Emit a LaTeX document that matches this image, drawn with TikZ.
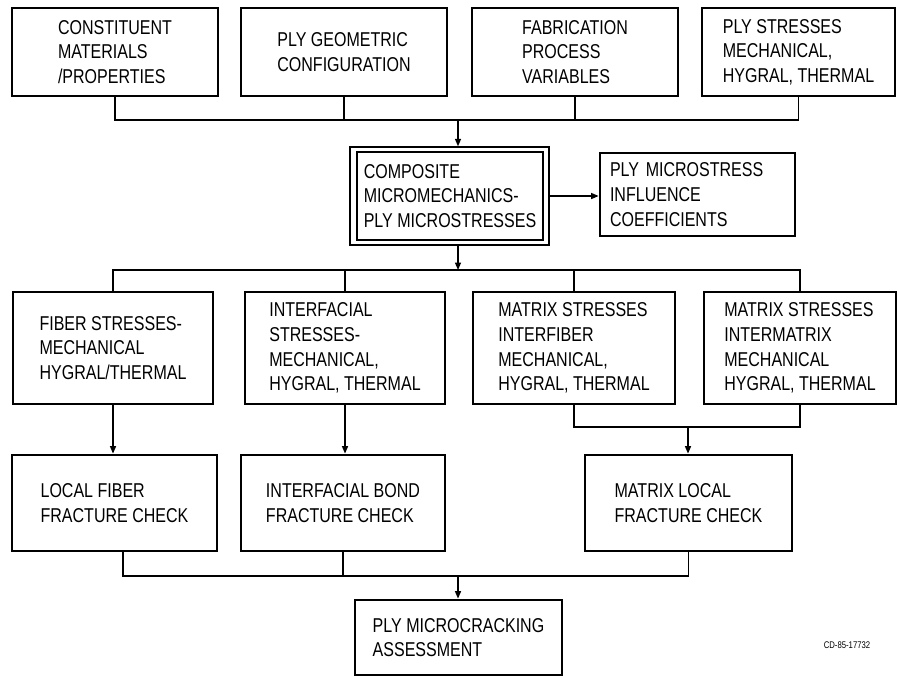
\documentclass[tikz,border=0pt]{standalone}
\usepackage{fontspec}
\setmainfont{Liberation Sans}[FakeStretch=0.8]
\usetikzlibrary{arrows.meta}

\tikzset{
  box/.style={draw, line width=1.6pt, inner sep=0pt, align=left,
    font=\fontsize{11.4}{14}\selectfont},
  link/.style={line width=0.8pt},
  flow/.style={link, -{Triangle[length=0.15cm,width=0.12cm]}}
}

\begin{document}
\begin{tikzpicture}[x=0.02cm,y=-0.02cm]
\useasboundingbox (0,0) rectangle (898,677);

% inputs
\node[box, minimum width=4.12cm, minimum height=1.76cm] (cm) at (115,52) {CONSTITUENT\\MATERIALS\\/PROPERTIES};
\node[box, minimum width=4.12cm, minimum height=1.76cm] (pg) at (344,52) {PLY GEOMETRIC\\CONFIGURATION};
\node[box, minimum width=4.12cm, minimum height=1.76cm] (fp) at (575,52) {FABRICATION\\PROCESS\\VARIABLES};
\node[box, minimum width=3.86cm, minimum height=1.76cm] (ps) at (798.5,52) {PLY STRESSES\\MECHANICAL,\\HYGRAL, THERMAL};

% micromechanics
\node[draw, line width=0.8pt, minimum width=3.98cm, minimum height=1.96cm] (cpo) at (449.5,196) {};
\node[box, minimum width=3.72cm, minimum height=1.76cm] (cp) at (450,196) {COMPOSITE\\MICROMECHANICS-\\PLY MICROSTRESSES};
\node[box, minimum width=3.9cm, minimum height=1.66cm, text width=3.5cm] (mc) at (697.5,194.5) {PLY MICROSTRESS\\INFLUENCE\\COEFFICIENTS};

% microstresses
\node[box, minimum width=4cm, minimum height=2.24cm] (fs) at (113,348) {FIBER STRESSES-\\MECHANICAL\\HYGRAL/THERMAL};
\node[box, minimum width=4cm, minimum height=2.24cm] (is) at (345,348) {INTERFACIAL\\STRESSES-\\MECHANICAL,\\HYGRAL, THERMAL};
\node[box, minimum width=4.04cm, minimum height=2.24cm] (mi) at (574,348) {MATRIX STRESSES\\INTERFIBER\\MECHANICAL,\\HYGRAL, THERMAL};
\node[box, minimum width=3.84cm, minimum height=2.24cm] (mm) at (800,348) {MATRIX STRESSES\\INTERMATRIX\\MECHANICAL\\HYGRAL, THERMAL};

% checks
\node[box, minimum width=4.1cm, minimum height=1.92cm] (lf) at (114.5,503) {LOCAL FIBER\\FRACTURE CHECK};
\node[box, minimum width=4.08cm, minimum height=1.92cm] (ib) at (343,503) {INTERFACIAL BOND\\FRACTURE CHECK};
\node[box, minimum width=4.14cm, minimum height=1.92cm] (ml) at (688.5,503) {MATRIX LOCAL\\FRACTURE CHECK};
\node[box, minimum width=4.14cm, minimum height=1.5cm] (pm) at (458.5,637.5) {PLY MICROCRACKING\\ASSESSMENT};

\node[font=\fontsize{5.5}{6}\selectfont] (cd) at (847,645) {CD-85-17732};

% joins
\coordinate (j1) at (458,120);
\coordinate (j2) at (458,270);
\coordinate (j3) at (688,427);
\coordinate (j4) at (458,576);

\draw[link] (cm.south) |- (ps.south |- j1) -- (ps.south);
\draw[link] (pg.south) -- (pg.south |- j1);
\draw[link] (fp.south) -- (fp.south |- j1);
\draw[flow] (j1) -- (j1 |- cpo.north);
\draw[flow] (cpo.east) -- (cpo.east -| mc.west);
\draw[flow] (j2 |- cpo.south) -- (j2);

\draw[link] (fs.north) |- (mm.north |- j2) -- (mm.north);
\draw[link] (is.north) -- (is.north |- j2);
\draw[link] (mi.north) -- (mi.north |- j2);

\draw[flow] (fs.south) -- (fs.south |- lf.north);
\draw[flow] (is.south) -- (is.south |- ib.north);
\draw[link] (mi.south) |- (mm.south |- j3) -- (mm.south);
\draw[flow] (j3) -- (j3 |- ml.north);

\draw[link] ([xshift=0.17cm]lf.south) |- (ml.south |- j4) -- (ml.south);
\draw[link] (ib.south) -- (ib.south |- j4);
\draw[flow] (j4) -- (j4 |- pm.north);
\end{tikzpicture}
\end{document}
